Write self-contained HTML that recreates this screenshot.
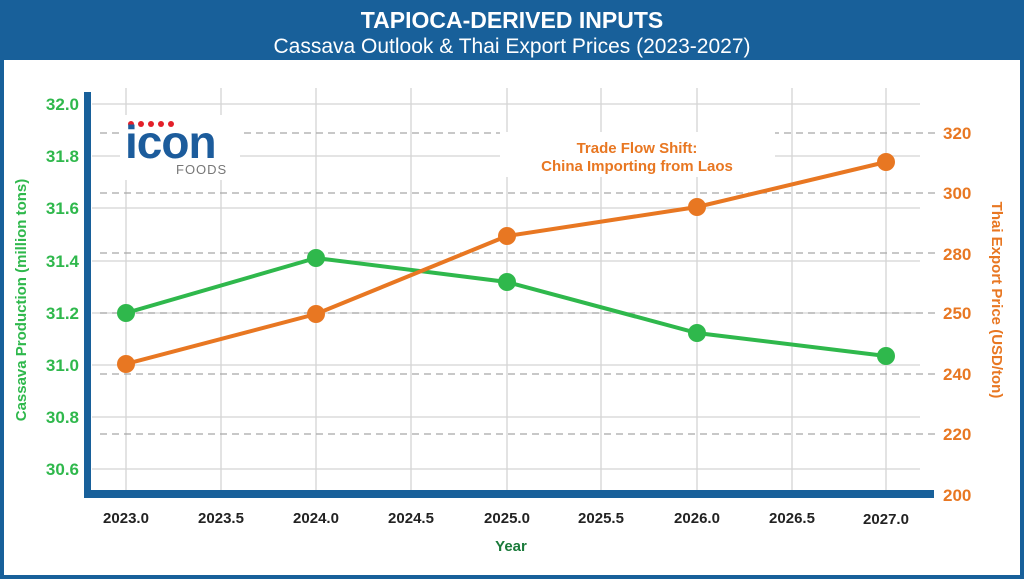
<!DOCTYPE html>
<html><head><meta charset="utf-8"><style>
html,body{margin:0;padding:0;background:#fff}
body{width:1024px;height:579px;overflow:hidden}
</style></head><body>
<svg width="1024" height="579" viewBox="0 0 1024 579" xmlns="http://www.w3.org/2000/svg" font-family="Liberation Sans, sans-serif">
<rect x="0" y="0" width="1024" height="579" fill="#18609a"/>
<rect x="4" y="60" width="1016" height="515" fill="#fff"/>
<text x="512" y="28" text-anchor="middle" fill="#fff" font-size="23" font-weight="bold">TAPIOCA-DERIVED INPUTS</text>
<text x="512" y="53" text-anchor="middle" fill="#fff" font-size="21">Cassava Outlook &amp; Thai Export Prices (2023-2027)</text>
<g stroke="#d4d4d4" stroke-width="1.3">
<line x1="126" y1="88" x2="126" y2="495"/><line x1="221" y1="88" x2="221" y2="495"/>
<line x1="316" y1="88" x2="316" y2="495"/><line x1="411" y1="88" x2="411" y2="495"/>
<line x1="507" y1="88" x2="507" y2="495"/><line x1="601" y1="88" x2="601" y2="495"/>
<line x1="697" y1="88" x2="697" y2="495"/><line x1="792" y1="88" x2="792" y2="495"/>
<line x1="886" y1="88" x2="886" y2="495"/>
<line x1="92" y1="104" x2="920" y2="104"/><line x1="92" y1="156" x2="920" y2="156"/>
<line x1="92" y1="208" x2="920" y2="208"/><line x1="92" y1="261" x2="920" y2="261"/>
<line x1="92" y1="313" x2="920" y2="313"/><line x1="92" y1="365" x2="920" y2="365"/>
<line x1="92" y1="417" x2="920" y2="417"/><line x1="92" y1="469" x2="920" y2="469"/>
</g>
<g stroke="#a8a8a8" stroke-width="1.3" stroke-dasharray="7,5">
<line x1="100" y1="133" x2="935" y2="133"/><line x1="100" y1="193" x2="935" y2="193"/>
<line x1="100" y1="253" x2="935" y2="253"/><line x1="100" y1="313" x2="935" y2="313"/>
<line x1="100" y1="374" x2="935" y2="374"/><line x1="100" y1="434" x2="935" y2="434"/>
</g>
<rect x="84" y="92" width="7" height="406" fill="#18609a"/>
<rect x="84" y="490" width="850" height="8" fill="#18609a"/>
<rect x="120" y="115" width="120" height="65" fill="#fff"/>
<g fill="#e3202a"><circle cx="131" cy="124" r="3"/><circle cx="141" cy="124" r="3"/><circle cx="151" cy="124" r="3"/><circle cx="161" cy="124" r="3"/><circle cx="171" cy="124" r="3"/></g>
<text x="125" y="158" fill="#1c5c9c" font-size="46" font-weight="bold" letter-spacing="-1">icon</text>
<text x="176" y="174" fill="#777" font-size="13" letter-spacing="1">FOODS</text>
<rect x="500" y="132" width="275" height="45" fill="#fff"/>
<text x="637" y="153" text-anchor="middle" fill="#e87722" font-size="15" font-weight="bold">Trade Flow Shift:</text>
<text x="637" y="171" text-anchor="middle" fill="#e87722" font-size="15" font-weight="bold">China Importing from Laos</text>
<polyline points="126,313 316,258 507,282 697,333 886,356" fill="none" stroke="#2fb84c" stroke-width="4"/>
<g fill="#2fb84c"><circle cx="126" cy="313" r="9"/><circle cx="316" cy="258" r="9"/><circle cx="507" cy="282" r="9"/><circle cx="697" cy="333" r="9"/><circle cx="886" cy="356" r="9"/></g>
<polyline points="126,364 316,314 507,236 697,207 886,162" fill="none" stroke="#e87722" stroke-width="4"/>
<g fill="#e87722"><circle cx="126" cy="364" r="9"/><circle cx="316" cy="314" r="9"/><circle cx="507" cy="236" r="9"/><circle cx="697" cy="207" r="9"/><circle cx="886" cy="162" r="9"/></g>
<g fill="#2fb84c" font-size="17" font-weight="bold" text-anchor="end">
<text x="79" y="110">32.0</text><text x="79" y="162">31.8</text><text x="79" y="214">31.6</text><text x="79" y="267">31.4</text><text x="79" y="319">31.2</text><text x="79" y="371">31.0</text><text x="79" y="423">30.8</text><text x="79" y="475">30.6</text>
</g>
<text transform="translate(26,300) rotate(-90)" text-anchor="middle" fill="#2fb84c" font-size="15" font-weight="bold">Cassava Production (million tons)</text>
<g fill="#e87722" font-size="17" font-weight="bold">
<text x="943" y="139">320</text><text x="943" y="199">300</text><text x="943" y="260">280</text><text x="943" y="319">250</text><text x="943" y="380">240</text><text x="943" y="440">220</text><text x="943" y="501">200</text>
</g>
<text transform="translate(992,300) rotate(90)" text-anchor="middle" fill="#e87722" font-size="15" font-weight="bold">Thai Export Price (USD/ton)</text>
<g fill="#222" font-size="15" font-weight="bold" text-anchor="middle">
<text x="126" y="523">2023.0</text><text x="221" y="523">2023.5</text><text x="316" y="523">2024.0</text><text x="411" y="523">2024.5</text><text x="507" y="523">2025.0</text><text x="601" y="523">2025.5</text><text x="697" y="523">2026.0</text><text x="792" y="523">2026.5</text><text x="886" y="524">2027.0</text>
</g>
<text x="511" y="551" text-anchor="middle" fill="#1a7a3a" font-size="15" font-weight="bold">Year</text>
</svg>
</body></html>
